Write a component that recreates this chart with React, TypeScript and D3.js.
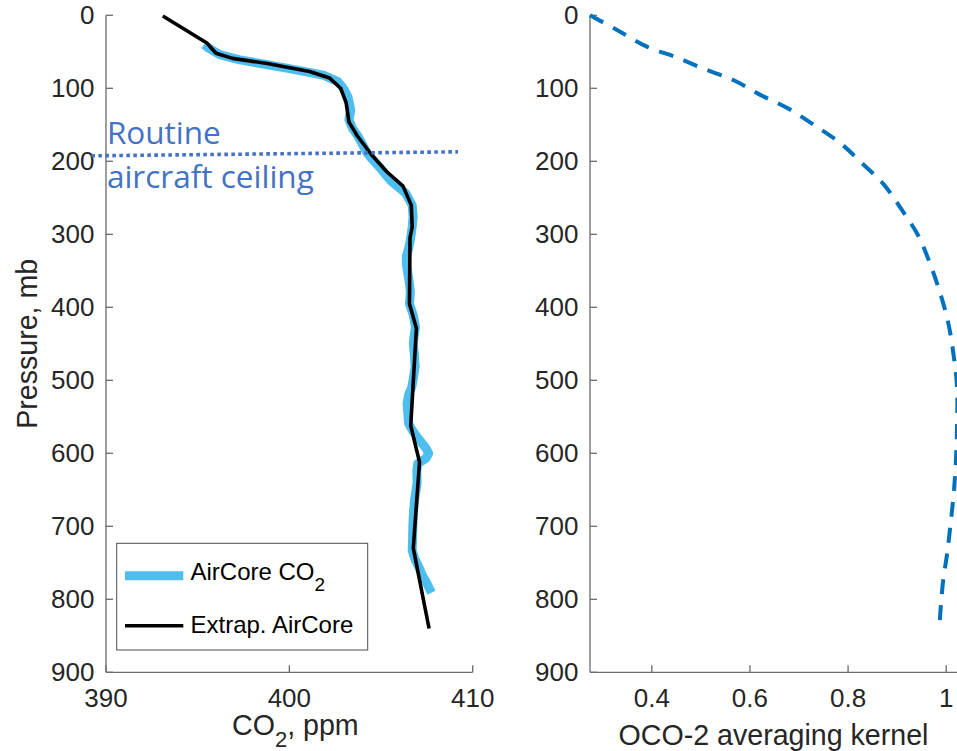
import React from "react";
import * as d3 from "d3";

// ---------- Data ----------
// Extrapolated AirCore profile (black line)
const extrapP = [1, 38, 52, 59, 66, 77, 86, 100, 120, 146, 165, 190, 214, 234, 260, 290, 305, 395, 429, 562, 612, 730, 840];
const extrapCO2 = [393.1, 395.5, 396.0, 396.9, 398.8, 401.1, 402.2, 402.8, 403.1, 403.25, 403.7, 404.45, 405.3, 406.2, 406.65, 406.7, 406.58, 406.55, 406.93, 406.62, 407.1, 406.76, 407.62];

// AirCore CO2 measurements (thick light blue)
const airP = [40, 45, 54, 61, 73, 82, 91, 100, 112, 130, 143, 155, 166, 189, 198, 212, 226, 244, 260, 276, 290, 308, 320, 330, 340, 352, 367, 380, 395, 410, 427, 440, 449, 465, 481, 495, 509, 520, 532, 548, 559, 570, 577, 585, 593, 600, 607, 614, 625, 641, 660, 678, 690, 705, 720, 733, 745, 755, 767, 778, 786, 791];
const airCO2 = [395.35, 395.6, 396.2, 397.3, 400.0, 401.85, 402.65, 402.95, 403.2, 403.35, 403.25, 403.45, 403.75, 404.25, 404.55, 405.05, 405.5, 406.35, 406.7, 406.75, 406.7, 406.6, 406.5, 406.38, 406.38, 406.45, 406.55, 406.6, 406.55, 406.75, 406.88, 406.8, 406.76, 406.82, 406.86, 406.78, 406.68, 406.5, 406.42, 406.47, 406.5, 406.75, 406.95, 407.2, 407.45, 407.6, 407.45, 407.0, 406.95, 406.97, 406.85, 406.78, 406.75, 406.73, 406.72, 406.7, 406.85, 407.05, 407.25, 407.5, 407.65, 407.75];

// OCO-2 averaging kernel (dashed)
const akP = [0, 20, 43, 57, 73, 89, 109, 127, 150, 175, 203, 232, 267, 303, 342, 381, 424, 470, 509, 591, 650, 696, 737, 773, 819, 841];
const akVal = [0.274, 0.329, 0.39, 0.448, 0.505, 0.567, 0.621, 0.676, 0.73, 0.784, 0.829, 0.873, 0.91, 0.944, 0.968, 0.988, 1.005, 1.016, 1.022, 1.021, 1.016, 1.009, 1.002, 0.994, 0.988, 0.986];

// Annotation: routine aircraft ceiling
const ceilingCO2 = [389.2, 409.2];
const ceilingP = [192.5, 187];

// Ticks
const pressureTicks = [0, 100, 200, 300, 400, 500, 600, 700, 800, 900];
const co2Ticks = [390, 400, 410];
const akTicks = [0.4, 0.6, 0.8, 1];
const akTickLabels = ["0.4", "0.6", "0.8", "1"];

// ---------- Layout ----------
const W = 957;
const H = 751;
const top = 15.3;
const bottom = 672.3;
const leftL = 106;
const leftR = 472.7;
const rightL = 590;
const rightR = 957;

const FONT = "'Liberation Sans', Arial, Helvetica, sans-serif";
const AX = "#262626";
const AXLINE = "#6b6b6b";

export default function App() {
  const y = d3.scaleLinear().domain([0, 900]).range([top, bottom]);
  const xL = d3.scaleLinear().domain([390, 410]).range([leftL, leftR]);
  const akExt = d3.extent(akVal) as [number, number];
  const xR = d3.scaleLinear().domain(akExt).range([rightL, rightR]);

  const extrap = extrapP.map((p, i) => [extrapCO2[i], p] as [number, number]);
  const air = airP.map((p, i) => [airCO2[i], p] as [number, number]);
  const ak = akP.map((p, i) => [akVal[i], p] as [number, number]);

  const lineL = d3.line<[number, number]>().x((d) => xL(d[0])).y((d) => y(d[1]));
  const lineR = d3
    .line<[number, number]>()
    .x((d) => xR(d[0]))
    .y((d) => y(d[1]))
    .curve(d3.curveCatmullRom.alpha(0.5));

  const ceil = ceilingCO2.map((c, i) => [c, ceilingP[i]] as [number, number]);

  const tickLen = 7;

  const yAxis = (x0: number) => (
    <g>
      <line x1={x0} x2={x0} y1={top} y2={bottom} stroke={AXLINE} strokeWidth={1.3} />
      {pressureTicks.map((t) => (
        <g key={t}>
          <line x1={x0} x2={x0 + tickLen} y1={y(t)} y2={y(t)} stroke={AXLINE} strokeWidth={1.3} />
          <text
            x={x0 - 11.5}
            y={y(t)}
            dy="0.35em"
            textAnchor="end"
            fontFamily={FONT}
            fontSize={26}
            fill={AX}
          >
            {t}
          </text>
        </g>
      ))}
    </g>
  );

  return (
    <svg
      width={W}
      height={H}
      style={{ position: "absolute", left: 0, top: 0, background: "#fff" }}
    >
      <rect x={0} y={0} width={W} height={H} fill="#fff" />

      {/* ---------- Left panel ---------- */}
      {yAxis(leftL)}
      <line x1={leftL} x2={leftR} y1={bottom} y2={bottom} stroke={AXLINE} strokeWidth={1.3} />
      {co2Ticks.map((t) => (
        <g key={t}>
          <line x1={xL(t)} x2={xL(t)} y1={bottom} y2={bottom - tickLen} stroke={AXLINE} strokeWidth={1.3} />
          <text x={xL(t)} y={707} textAnchor="middle" fontFamily={FONT} fontSize={26} fill={AX}>
            {t}
          </text>
        </g>
      ))}
      <text x={232} y={735} fontFamily={FONT} fontSize={28.6} fill={AX}>
        CO
        <tspan fontSize={22} dy={11.5}>2</tspan>
        <tspan dy={-11.5}>, ppm</tspan>
      </text>
      <text
        transform={`translate(37, ${(top + bottom) / 2}) rotate(-90)`}
        textAnchor="middle"
        fontFamily={FONT}
        fontSize={28.6}
        fill={AX}
      >
        Pressure, mb
      </text>

      {/* data lines */}
      <path
        d={lineL(air) || ""}
        fill="none"
        stroke="#4DBEEE"
        strokeWidth={9}
        strokeLinejoin="round"
      />
      <path
        d={lineL(extrap) || ""}
        fill="none"
        stroke="#000"
        strokeWidth={3.6}
        strokeLinejoin="round"
      />

      {/* ceiling annotation */}
      <path
        d={lineL(ceil) || ""}
        fill="none"
        stroke="#4472C4"
        strokeWidth={3.6}
        strokeDasharray="3.6 3.4"
      />
      <text x={xL(390.05)} y={y(176.3)} fontFamily="'Open Sans', sans-serif" fontSize={31.5} fill="#4472C4">
        Routine
      </text>
      <text x={xL(390.05)} y={y(237)} fontFamily="'Open Sans', sans-serif" fontSize={31.5} fill="#4472C4">
        aircraft ceiling
      </text>

      {/* legend */}
      <rect x={116.7} y={543.3} width={251} height={106.7} fill="#fff" stroke="#4d4d4d" strokeWidth={1} />
      <line x1={125} x2={183.3} y1={575.7} y2={575.7} stroke="#4DBEEE" strokeWidth={9} />
      <line x1={125} x2={183.3} y1={625.7} y2={625.7} stroke="#000" strokeWidth={3.6} />
      <text x={190.5} y={580} fontFamily={FONT} fontSize={24} fill="#000">
        AirCore CO
        <tspan fontSize={19} dy={11}>2</tspan>
      </text>
      <text x={190.5} y={633} fontFamily={FONT} fontSize={24} fill="#000">
        Extrap. AirCore
      </text>

      {/* ---------- Right panel ---------- */}
      {yAxis(rightL)}
      <line x1={rightL} x2={rightR} y1={bottom} y2={bottom} stroke={AXLINE} strokeWidth={1.3} />
      {akTicks.map((t, i) => (
        <g key={t}>
          <line x1={xR(t)} x2={xR(t)} y1={bottom} y2={bottom - tickLen} stroke={AXLINE} strokeWidth={1.3} />
          <text x={xR(t)} y={707} textAnchor="middle" fontFamily={FONT} fontSize={26} fill={AX}>
            {akTickLabels[i]}
          </text>
        </g>
      ))}
      <text
        x={(rightL + rightR) / 2}
        y={745}
        textAnchor="middle"
        fontFamily={FONT}
        fontSize={28.6}
        fill={AX}
      >
        OCO-2 averaging kernel
      </text>
      <path
        d={lineR(ak) || ""}
        fill="none"
        stroke="#0072BD"
        strokeWidth={4}
        strokeDasharray="15 11"
      />
    </svg>
  );
}
